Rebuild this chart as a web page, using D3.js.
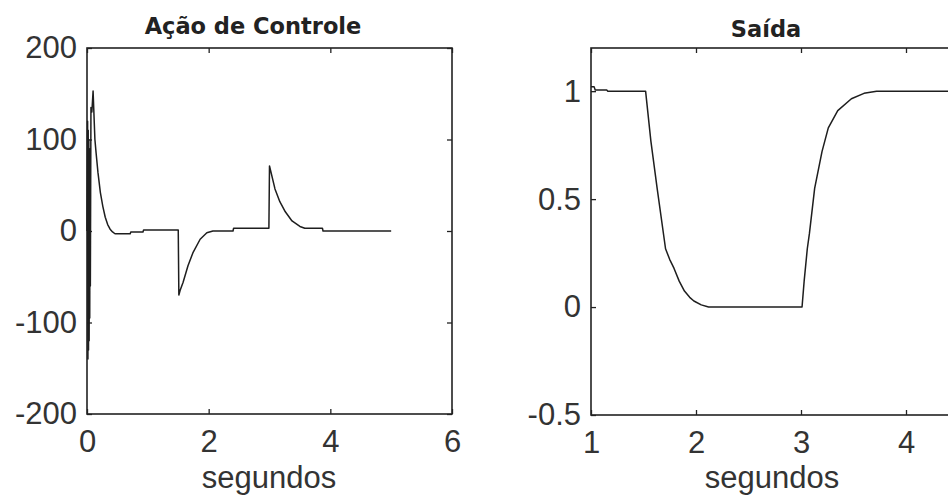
<!DOCTYPE html>
<html>
<head>
<meta charset="utf-8">
<script src="https://cdn.jsdelivr.net/npm/d3@7"></script>
<style>
  html, body { margin:0; padding:0; background:#fff; }
  svg { display:block; }
  .tick text { font-family:"Liberation Sans", Arial, sans-serif; font-size:31px; fill:#333; }
  .tick line { stroke:#222; stroke-width:1.3; }
  .frame { fill:none; stroke:#222; stroke-width:1.6; }
  .trace { fill:none; stroke:#1e1e1e; stroke-width:1.5; stroke-linejoin:round; }
  .title { font-family:"DejaVu Sans", sans-serif; font-weight:bold; font-size:22.5px; fill:#222; text-anchor:middle; }
  .xlab { font-family:"Liberation Sans", Arial, sans-serif; font-size:31px; fill:#333; text-anchor:middle; }
</style>
</head>
<body>
<svg id="svg" width="948" height="496"></svg>
<script>
// Ação de Controle (control effort) vs time
const ctrlT = [0, 0.01, 0.015, 0.02, 0.025, 0.03, 0.035, 0.04, 0.045, 0.05, 0.055, 0.06, 0.065, 0.08, 0.1,
  0.13, 0.15, 0.18, 0.22, 0.26, 0.3, 0.34, 0.38, 0.42, 0.46, 0.71, 0.72, 0.92, 0.93,
  1.5, 1.51, 1.53, 1.58, 1.66, 1.74, 1.86, 1.97, 2.07, 2.4, 2.41,
  2.99, 3.0, 3.09, 3.17, 3.26, 3.37, 3.5, 3.58, 3.87, 3.88, 5.0];
const ctrlU = [0, 120, -140, 110, -130, 100, -120, 5, -95, 90, -60, 40, 135, 130, 153,
  100, 85, 64, 42, 27, 15, 7, 2, -1, -3, -3, -1, -1, 1,
  1, -70, -65, -56, -38, -24, -9, -2, 0, 0, 3,
  3, 71, 46, 32, 21, 11, 5, 3, 3, 0, 0];

// Saída (output) vs time
const outT = [1.0, 1.03, 1.04, 1.15, 1.16, 1.52, 1.57, 1.63, 1.71, 1.75, 1.79, 1.84, 1.89, 1.94, 1.98, 2.05, 2.12,
  3.01, 3.03, 3.06, 3.08, 3.13, 3.2, 3.26, 3.35, 3.48, 3.6, 3.72, 5.0];
const outY = [1.02, 1.02, 1.005, 1.005, 1.0, 1.0, 0.77, 0.55, 0.27, 0.22, 0.18, 0.12, 0.074, 0.045, 0.028, 0.01, 0,
  0, 0.12, 0.27, 0.34, 0.55, 0.72, 0.83, 0.91, 0.965, 0.99, 1.0, 1.0];

const leftXTicks = [0, 2, 4, 6];
const leftYTicks = [-200, -100, 0, 100, 200];
const rightXTicks = [1, 2, 3, 4];   // 5 falls past the right edge of the picture
const rightYTicks = [-0.5, 0, 0.5, 1];

const svg = d3.select('#svg');

function panel(cfg) {
  const x = d3.scaleLinear().domain(cfg.xDomain).range([cfg.left, cfg.right]);
  const y = d3.scaleLinear().domain(cfg.yDomain).range([cfg.bottom, cfg.top]);
  const g = svg.append('g');

  const fmt = d => String(d);
  g.append('g').attr('transform', `translate(0,${cfg.bottom})`)
    .call(d3.axisBottom(x).tickValues(cfg.xTicks).tickSize(-5).tickPadding(16).tickFormat(fmt))
    .call(a => a.select('.domain').remove());
  g.append('g').attr('transform', `translate(0,${cfg.top})`)
    .call(d3.axisTop(x).tickValues(cfg.xTicks).tickSize(-5).tickFormat(''))
    .call(a => a.select('.domain').remove());
  g.append('g').attr('transform', `translate(${cfg.left},0)`)
    .call(d3.axisLeft(y).tickValues(cfg.yTicks).tickSize(-5).tickPadding(10).tickFormat(fmt))
    .call(a => a.select('.domain').remove());
  g.append('g').attr('transform', `translate(${cfg.right},0)`)
    .call(d3.axisRight(y).tickValues(cfg.yTicks).tickSize(-5).tickFormat(''))
    .call(a => a.select('.domain').remove());

  g.append('rect').attr('class', 'frame')
    .attr('x', cfg.left).attr('y', cfg.top)
    .attr('width', cfg.right - cfg.left).attr('height', cfg.bottom - cfg.top);

  const pts = cfg.xs.map((t, i) => [t, cfg.ys[i]]);
  g.append('path').attr('class', 'trace')
    .attr('d', d3.line().x(d => x(d[0])).y(d => y(d[1]))(pts));

  g.append('text').attr('class', 'title').attr('x', cfg.titleX).attr('y', cfg.titleY).text(cfg.title);
  g.append('text').attr('class', 'xlab').attr('x', cfg.labX).attr('y', 488).text('segundos');
}

panel({
  xDomain: [0, 6], yDomain: [-200, 200], left: 87, right: 452, top: 48, bottom: 414,
  xTicks: leftXTicks, yTicks: leftYTicks,
  xs: ctrlT, ys: ctrlU, title: 'Ação de Controle', titleX: 253, titleY: 34, labX: 269
});

panel({
  xDomain: [1, 5], yDomain: [-0.5, 1.2], left: 591, right: 1011, top: 48, bottom: 415,
  xTicks: rightXTicks, yTicks: rightYTicks,
  xs: outT, ys: outY, title: 'Saída', titleX: 766, titleY: 37, labX: 772
});
</script>
</body>
</html>
